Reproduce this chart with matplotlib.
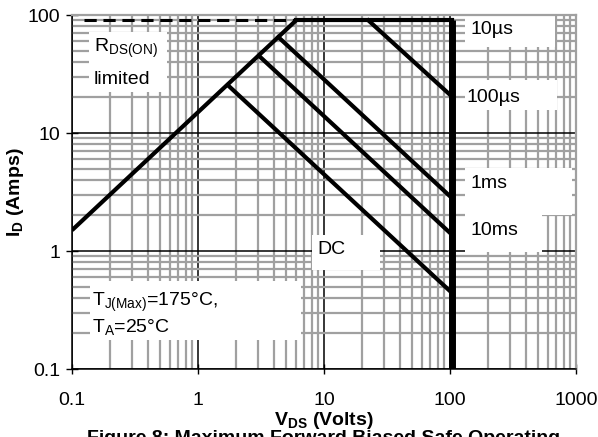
import matplotlib
matplotlib.use("Agg")
import matplotlib.pyplot as plt
from matplotlib.patches import Rectangle
from matplotlib.ticker import LogLocator, NullFormatter

plt.rcParams['font.family'] = ['Liberation Sans', 'DejaVu Sans']
plt.rcParams['mathtext.fontset'] = 'custom'
plt.rcParams['mathtext.rm'] = 'Liberation Sans'
plt.rcParams['mathtext.it'] = 'Liberation Sans:italic'
plt.rcParams['mathtext.bf'] = 'Liberation Sans:bold'
plt.rcParams['mathtext.default'] = 'rm'

# ---- data (V_DS in volts, I_D in amps) ----
rds_v = [0.1, 6.0]
rds_i = [1.5, 90.0]
dash_v = [0.125, 6.0]
dash_i = [90.0, 90.0]
top_v = [6.0, 104.0]
top_i = [90.0, 90.0]
vmax_v = [104.0, 104.0]
vmax_i = [90.0, 0.1]
us100_v = [22.5, 104.0]
us100_i = [90.0, 20.3]
ms1_v = [4.34, 104.0]
ms1_i = [65.0, 2.8]
ms10_v = [3.05, 104.0]
ms10_i = [45.0, 1.37]
dc_v = [1.72, 104.0]
dc_i = [25.5, 0.44]

x_ticks = [0.1, 1, 10, 100, 1000]
x_ticklabels = ['0.1', '1', '10', '100', '1000']
y_ticks = [0.1, 1, 10, 100]
y_ticklabels = ['0.1', '1', '10', '100']

FS = 14
W, H = 598, 437
fig = plt.figure(figsize=(W / 100, H / 100), dpi=100)
L, R, T, B = 72, 576, 15, 369
ax = fig.add_axes([L / W, 1 - B / H, (R - L) / W, (B - T) / H])
ax.set_xscale('log')
ax.set_yscale('log')
ax.set_xlim(0.1, 1000)
ax.set_ylim(0.1, 100)

ax.set_xticks(x_ticks)
ax.set_xticklabels(x_ticklabels)
ax.set_yticks(y_ticks)
ax.set_yticklabels(y_ticklabels)
ax.xaxis.set_minor_locator(LogLocator(base=10, subs=range(2, 10), numticks=20))
ax.yaxis.set_minor_locator(LogLocator(base=10, subs=range(2, 10), numticks=20))
ax.xaxis.set_minor_formatter(NullFormatter())
ax.yaxis.set_minor_formatter(NullFormatter())
ax.tick_params(which='minor', length=0)
ax.tick_params(axis='x', which='major', direction='inout', length=7, width=1,
               labelsize=FS, pad=13)
ax.tick_params(axis='y', which='major', direction='inout', length=9, width=1,
               labelsize=FS, pad=4)

ax.set_axisbelow(True)
ax.grid(which='minor', color='#a0a0a0', linewidth=1.6)
ax.grid(which='major', color='black', linewidth=1.1)

for s in ['left', 'bottom']:
    ax.spines[s].set_color('black')
    ax.spines[s].set_linewidth(1.1)
for s in ['top', 'right']:
    ax.spines[s].set_color('#a0a0a0')
    ax.spines[s].set_linewidth(1.6)

# white label boxes (pixel rectangles converted to axes fraction)
def px_box(x0, y0, x1, y1):
    fx0 = (x0 - L) / (R - L)
    fx1 = (x1 - L) / (R - L)
    fy0 = 1 - (y1 - T) / (B - T)
    fy1 = 1 - (max(y0, T) - T) / (B - T)
    ax.add_patch(Rectangle((fx0, fy0), fx1 - fx0, fy1 - fy0, transform=ax.transAxes,
                           facecolor='white', edgecolor='none', zorder=1.5))

px_box(89, 32, 167, 92)      # RDS(ON) limited
px_box(90, 281, 301, 340)    # TJ / TA
px_box(312, 235, 380, 270)   # DC
px_box(465, 13, 555, 47)     # 10us
px_box(465, 80, 557, 110)    # 100us
px_box(465, 168, 572, 215)   # 1ms
px_box(465, 215, 542, 252)   # 10ms

lw = 3.0
ax.plot(rds_v, rds_i, color='black', lw=lw, zorder=4, solid_capstyle='butt')
ax.plot(dash_v, dash_i, color='black', lw=2.2, ls=(0, (4, 2.2)), zorder=4)
ax.plot(top_v, top_i, color='black', lw=lw, zorder=4)
ax.plot(us100_v, us100_i, color='black', lw=lw, zorder=4)
ax.plot(ms1_v, ms1_i, color='black', lw=lw, zorder=4)
ax.plot(ms10_v, ms10_i, color='black', lw=lw, zorder=4)
ax.plot(dc_v, dc_i, color='black', lw=lw, zorder=4)
ax.plot(vmax_v, vmax_i, color='black', lw=5, zorder=4, solid_capstyle='butt')

def px_text(x, y, s, **kw):
    ax.text((x - L) / (R - L), 1 - (y - T) / (B - T), s, transform=ax.transAxes,
            fontsize=FS, va='center', ha='left', zorder=5, **kw)

px_text(471, 29, '10µs')
px_text(467, 97, '100µs')
px_text(470, 184, '1ms')
px_text(470, 231, '10ms')
px_text(94, 48, r'$R_{DS(ON)}$')
px_text(94, 80, 'limited')
px_text(92, 302, r'$T_{J(Max)}$=175°C,')
px_text(92, 327, r'$T_A$=25°C')
px_text(317, 250, 'DC')

ax.set_xlabel(r'$\mathbf{V_{DS}}$ (Volts)', fontsize=FS, fontweight='bold', labelpad=1)
ax.set_ylabel(r'$\mathbf{I_D}$ (Amps)', fontsize=FS, fontweight='bold', labelpad=1)

fig.text((L + R) / 2 / W, 1 - 430 / H, 'Figure 8: Maximum Forward Biased Safe Operating',
         ha='center', va='top', fontsize=FS, fontweight='bold')

fig.savefig('out.png', dpi=100)
